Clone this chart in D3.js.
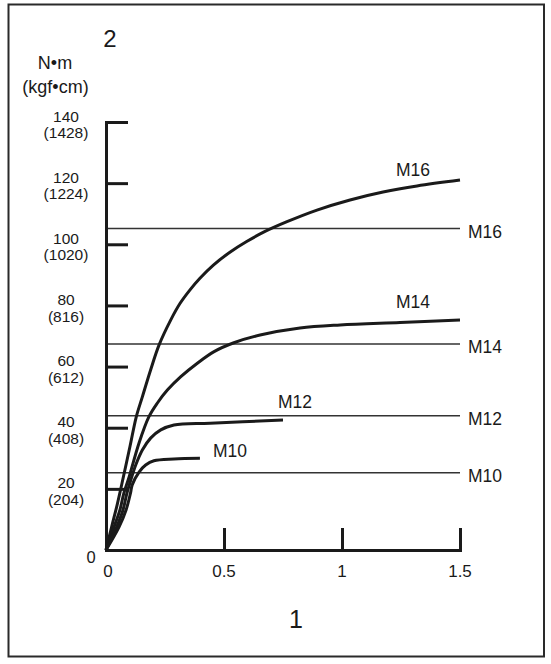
<!DOCTYPE html>
<html>
<head>
<meta charset="utf-8">
<script src="https://cdn.jsdelivr.net/npm/d3@7"></script>
<style>
  html, body { margin: 0; padding: 0; background: #fff; }
  text { font-family: "Liberation Sans", Arial, sans-serif; fill: #1a1a1a; }
</style>
</head>
<body>
<svg id="chart" width="551" height="664"></svg>
<script>
// ---- data ----
const seriesNames = ["M16", "M14", "M12", "M10"];
// rotation angle (x) vs torque N·m (y) per bolt size
const m16X = [0, 0.025, 0.047, 0.068, 0.102, 0.128, 0.154, 0.189, 0.225, 0.274, 0.314, 0.356, 0.398, 0.455, 0.525, 0.596, 0.674, 0.767, 0.894, 1.034, 1.174, 1.318, 1.5];
const m16Y = [0, 7.9, 14.7, 21.9, 34.0, 43.5, 50.1, 58.9, 67.1, 75.2, 80.7, 85.1, 88.9, 93.2, 97.4, 100.9, 104.2, 107.4, 111.2, 114.5, 117.1, 119.1, 121.0];
const m14X = [0, 0.034, 0.059, 0.076, 0.098, 0.140, 0.182, 0.217, 0.260, 0.317, 0.387, 0.458, 0.542, 0.653, 0.822, 0.992, 1.246, 1.5];
const m14Y = [0, 7.5, 13.1, 18.7, 23.9, 35.0, 43.6, 48.0, 52.3, 56.7, 61.1, 64.9, 67.8, 70.3, 72.6, 73.6, 74.4, 75.2];
const m12X = [0, 0.045, 0.072, 0.089, 0.105, 0.126, 0.154, 0.189, 0.232, 0.288, 0.441, 0.75];
const m12Y = [0, 7.5, 13.1, 18.7, 22.9, 27.8, 32.7, 36.6, 39.3, 40.9, 41.5, 42.5];
const m10X = [0, 0.055, 0.085, 0.104, 0.111, 0.140, 0.168, 0.203, 0.288, 0.398];
const m10Y = [0, 7.5, 13.1, 18.7, 21.3, 25.5, 27.8, 29.2, 29.8, 30.0];
// recommended torque reference levels
const refValues = [105.2, 67.4, 43.9, 25.3];
// axis ticks
const yTicks = [20, 40, 60, 80, 100, 120, 140];
const yTickLabels = ["20", "40", "60", "80", "100", "120", "140"];
const yTickLabelsKgf = ["(204)", "(408)", "(612)", "(816)", "(1020)", "(1224)", "(1428)"];
const xTicks = [0.5, 1, 1.5];
const xTickLabels = ["0.5", "1", "1.5"];
const yUnit = ["N•m", "(kgf•cm)"];
const xTitle = "1";
const yTitle = "2";

// ---- layout ----
const svg = d3.select("#chart");
const x = d3.scaleLinear().domain([0, 1.5]).range([106, 460]);
const y = d3.scaleLinear().domain([0, 140]).range([550, 122]);
const ink = "#1a1a1a";

// outer frame
svg.append("rect").attr("x", 8.5).attr("y", 4.5).attr("width", 535.5).attr("height", 652)
  .attr("fill", "none").attr("stroke", "#2a2a2a").attr("stroke-width", 2);

// reference lines
svg.append("g").selectAll("line").data(refValues).join("line")
  .attr("x1", x(0)).attr("x2", x(1.5))
  .attr("y1", d => y(d)).attr("y2", d => y(d))
  .attr("stroke", "#333").attr("stroke-width", 1.5);
svg.append("g").selectAll("text").data(refValues).join("text")
  .attr("x", x(1.5) + 8).attr("y", d => y(d) + 9.5)
  .attr("font-size", 17.5)
  .text((d, i) => seriesNames[i]);

// axes
const yAxis = d3.axisRight(y).tickValues(yTicks).tickSize(22).tickSizeOuter(0).tickFormat("");
const gy = svg.append("g").attr("transform", `translate(${x(0)},0)`).call(yAxis);
const xAxis = d3.axisTop(x).tickValues(xTicks).tickSize(22).tickSizeOuter(0).tickFormat("");
const gx = svg.append("g").attr("transform", `translate(0,${y(0)})`).call(xAxis);
[gy, gx].forEach(g => {
  g.selectAll("path.domain").attr("stroke", ink).attr("stroke-width", 3).attr("stroke-linecap", "square");
  g.selectAll(".tick line").attr("stroke", ink).attr("stroke-width", 3);
});

// y tick labels (two lines: N·m over kgf·cm)
const yl = svg.append("g");
yTicks.forEach((t, i) => {
  yl.append("text").attr("x", 66).attr("y", y(t) - 0.5).attr("text-anchor", "middle")
    .attr("font-size", 15.5).text(yTickLabels[i]);
  yl.append("text").attr("x", 66).attr("y", y(t) + 16.2).attr("text-anchor", "middle")
    .attr("font-size", 15.5).text(yTickLabelsKgf[i]);
});
yl.append("text").attr("x", 91).attr("y", y(0) + 13).attr("text-anchor", "middle")
  .attr("font-size", 16.5).text("0");

// x tick labels
const xl = svg.append("g");
xl.append("text").attr("x", x(0) + 2).attr("y", 577).attr("text-anchor", "middle")
  .attr("font-size", 17).text("0");
xTicks.forEach((t, i) => {
  xl.append("text").attr("x", x(t)).attr("y", 577).attr("text-anchor", "middle")
    .attr("font-size", 17).text(xTickLabels[i]);
});

// titles / units
svg.append("text").attr("x", 55).attr("y", 69).attr("text-anchor", "middle")
  .attr("font-size", 18).text(yUnit[0]);
svg.append("text").attr("x", 55.5).attr("y", 92.5).attr("text-anchor", "middle")
  .attr("font-size", 18).text(yUnit[1]);
svg.append("text").attr("x", 110).attr("y", 47).attr("text-anchor", "middle")
  .attr("font-size", 24).text(yTitle);
svg.append("text").attr("x", 296).attr("y", 628).attr("text-anchor", "middle")
  .attr("font-size", 25).text(xTitle);

// curves
const curves = [
  { name: "M16", xs: m16X, ys: m16Y },
  { name: "M14", xs: m14X, ys: m14Y },
  { name: "M12", xs: m12X, ys: m12Y },
  { name: "M10", xs: m10X, ys: m10Y }
];
const line = d3.line().x(d => x(d[0])).y(d => y(d[1])).curve(d3.curveCatmullRom.alpha(0.5));
svg.append("g").selectAll("path").data(curves).join("path")
  .attr("d", c => line(c.xs.map((v, i) => [v, c.ys[i]])))
  .attr("fill", "none").attr("stroke", ink).attr("stroke-width", 3)
  .attr("stroke-linejoin", "round").attr("stroke-linecap", "butt");

// curve labels (offset from each curve's end point)
const labelOffsets = { M16: [-64, -4], M14: [-64, -12], M12: [-5, -12], M10: [13, -1] };
svg.append("g").selectAll("text").data(curves).join("text")
  .attr("x", c => x(c.xs[c.xs.length - 1]) + labelOffsets[c.name][0])
  .attr("y", c => y(c.ys[c.ys.length - 1]) + labelOffsets[c.name][1])
  .attr("font-size", 17.5)
  .text(c => c.name);
</script>
</body>
</html>
